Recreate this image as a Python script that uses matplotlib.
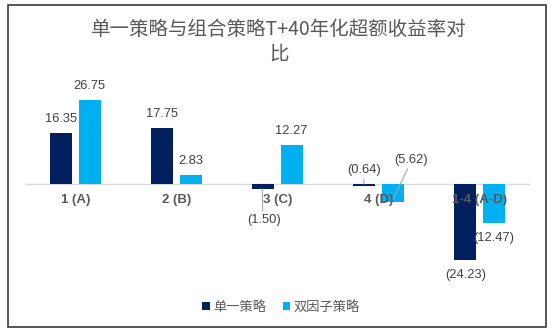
import matplotlib
matplotlib.use("Agg")
import matplotlib.pyplot as plt
from matplotlib.patches import Rectangle, Patch
import numpy as np

categories = ["1 (A)", "2 (B)", "3 (C)", "4 (D)", "1-4 (A-D)"]
series_names = ["单一策略", "双因子策略"]
single = [16.35, 17.75, -1.50, -0.64, -24.23]
dual = [26.75, 2.83, 12.27, -5.62, -12.47]
title = "单一策略与组合策略T+40年化超额收益率对\n比"

C_DARK = "#002060"
C_LIGHT = "#00B0F0"
C_TEXT = "#595959"
C_NUM = "#404040"

W, H = 555, 335
fig = plt.figure(figsize=(W / 100, H / 100), dpi=100)
fig.patch.set_facecolor("white")

top_px, bot_px, zero_px, scale = 70, 290, 184, 3.14
ax = fig.add_axes([25 / W, (H - bot_px) / H, 505 / W, (bot_px - top_px) / H])
ax.set_xlim(-0.5, len(categories) - 0.5)
ax.set_ylim(-(bot_px - zero_px) / scale, (zero_px - top_px) / scale)
ax.axis("off")

x = np.arange(len(categories))
off, bw = 0.14, 0.22
ax.bar(x - off, single, bw, color=C_DARK, zorder=3)
ax.bar(x + off, dual, bw, color=C_LIGHT, zorder=3)
ax.axhline(0, color="#d9d9d9", lw=1.0, zorder=2)

numfont = dict(family="Liberation Sans", size=9.3, color=C_NUM)
px = 0.72  # points per pixel


def fmt(v):
    return f"{v:.2f}" if v >= 0 else f"({abs(v):.2f})"


leader = dict(arrowstyle="-", color="#a6a6a6", lw=0.8, shrinkA=0, shrinkB=0)
for series, dx in ((single, -off), (dual, off)):
    for i, v in enumerate(series):
        xi = x[i] + dx
        lab = fmt(v)
        if v >= 0:
            ax.annotate(lab, (xi, v), xytext=(0, 14 * px), textcoords="offset points",
                        ha="center", va="center", **numfont)
        elif lab == "(1.50)":
            ax.annotate(lab, (xi - 0.01, v), xytext=(2 * px, -31 * px), textcoords="offset points",
                        ha="center", va="center", arrowprops=dict(leader, relpos=(0.45, 1.0)), **numfont)
        elif lab == "(0.64)":
            ax.annotate(lab, (xi - 0.005, 0), xytext=(0, 14 * px), textcoords="offset points",
                        ha="center", va="center", arrowprops=dict(leader, relpos=(0.5, 0.0)), **numfont)
        elif lab == "(5.62)":
            ax.annotate(lab, (xi, v + 0.5), xytext=(18 * px, 40 * px), textcoords="offset points",
                        ha="center", va="center", arrowprops=dict(leader, relpos=(0.45, 0.0)), **numfont)
        else:
            ax.annotate(lab, (xi, v), xytext=(0, -15 * px), textcoords="offset points",
                        ha="center", va="center", **numfont)

for i, c in enumerate(categories):
    ax.annotate(c, (x[i], 0), xytext=(0, -16 * px), textcoords="offset points",
                ha="center", va="center", family="Liberation Sans", size=9.5,
                weight="bold", color=C_TEXT, zorder=5)

fig.text(279 / W, 1 - 42 / H, title, ha="center", va="center",
         family=["Noto Sans CJK SC", "DejaVu Sans"], size=14, color=C_TEXT,
         linespacing=1.25)

handles = [Patch(facecolor=C_DARK, edgecolor="none"), Patch(facecolor=C_LIGHT, edgecolor="none")]
leg = fig.legend(handles, series_names, loc="center", bbox_to_anchor=(281 / W, 1 - 307 / H),
                 ncol=2, frameon=False, handlelength=0.55, handleheight=0.55, handletextpad=0.25,
                 columnspacing=1.3, prop=dict(family=["Noto Sans CJK SC", "DejaVu Sans"], size=9.5))
for t in leg.get_texts():
    t.set_color(C_TEXT)

fig.patches.append(Rectangle((8 / W, (H - 327) / H), 538 / W, 322 / H, transform=fig.transFigure,
                             fill=False, edgecolor="#3a3a3a", lw=1.2, zorder=10))

fig.savefig("out.png", dpi=100, facecolor="white")
